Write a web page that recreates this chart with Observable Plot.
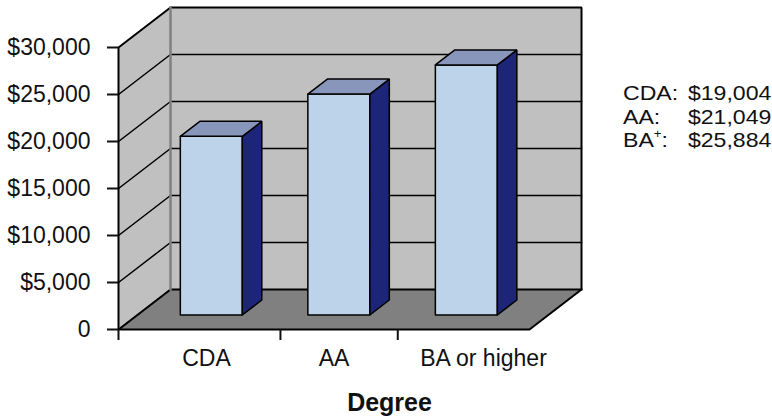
<!DOCTYPE html>
<html>
<head>
<meta charset="utf-8">
<script src="https://cdn.jsdelivr.net/npm/d3@7"></script>
<script src="https://cdn.jsdelivr.net/npm/@observablehq/plot@0.6"></script>
<style>
  html, body { margin: 0; padding: 0; background: #fff; }
  #wrap { position: relative; width: 772px; height: 419px; }
  #legend {
    position: absolute; left: 623px; top: 81px;
    font-family: "Liberation Sans", Arial, sans-serif; font-size: 21px; line-height: 23.5px;
    transform: scaleX(1.1); transform-origin: 0 0;
    color: #111; display: grid; grid-template-columns: 59px auto;
  }
  #legend sup { font-size: 12px; line-height: 0; vertical-align: baseline; position: relative; top: -9px; }
</style>
</head>
<body>
<div id="wrap"><div id="legend"></div></div>
<script>
// ---- data ----
const categories = ["CDA", "AA", "BA or higher"];
const barValues = [19004, 23500, 26600];          // bar heights as drawn
const legendNames = ["CDA", "AA", "BA"];
const legendSup = ["", "", "+"];
const legendValues = [19004, 21049, 25884];
const yTicks = [0, 5000, 10000, 15000, 20000, 25000, 30000];
const gridValues = [5000, 10000, 15000, 20000, 25000];

// ---- 3D layout (in scale units) ----
const X0 = -0.58, X1 = 2.643;          // floor extent along x (category index units)
const YMAX = 30000;
const DEPTH_X = 52 / 127.5;             // full depth shift in x units
const DEPTH_Y = 40 * 30000 / 282;       // full depth shift in y units
const BAR_W = 0.486, D1 = 0.3625, D2 = 0.7375;
const xTickMarks = [X0, 0.69, 1.61];

const P = (x, v, d) => ({x: x + d * DEPTH_X, y: v + d * DEPTH_Y});
const poly = (id, pts, closed = true) => (closed ? [...pts, pts[0]] : pts).map(p => ({...p, id}));

const backWall = poly("back", [P(X0, 0, 1), P(X1, 0, 1), P(X1, YMAX, 1), P(X0, YMAX, 1)]);
const leftWall = poly("left", [P(X0, 0, 0), P(X0, 0, 1), P(X0, YMAX, 1), P(X0, YMAX, 0)]);
const floor = poly("floor", [P(X0, 0, 0), P(X1, 0, 0), P(X1, 0, 1), P(X0, 0, 1)]);

const grid = gridValues.flatMap(v => poly("g" + v, [P(X0, v, 0), P(X0, v, 1), P(X1, v, 1)], false));
const outline = [
  ...poly("o1", [P(X0, 0, 0), P(X0, YMAX, 0), P(X0, YMAX, 1), P(X1, YMAX, 1), P(X1, 0, 1), P(X1, 0, 0), P(X0, 0, 0)], false),
  ...poly("o2", [P(X0, 0, 0), P(X0, 0, 1), P(X1, 0, 1)], false)
];
const cornerEdge = poly("c", [P(X0, 0, 1), P(X0, YMAX, 1)], false);

const fronts = [], sides = [], tops = [];
barValues.forEach((v, i) => {
  const xl = i - BAR_W / 2, xr = i + BAR_W / 2;
  fronts.push(...poly("f" + i, [P(xl, 0, D1), P(xr, 0, D1), P(xr, v, D1), P(xl, v, D1)]));
  sides.push(...poly("s" + i, [P(xr, 0, D1), P(xr, 0, D2), P(xr, v, D2), P(xr, v, D1)]));
  tops.push(...poly("t" + i, [P(xl, v, D1), P(xr, v, D1), P(xr, v, D2), P(xl, v, D2)]));
});

const face = (data, fill, extra = {}) => Plot.line(data, {x: "x", y: "y", z: "id", fill, stroke: "none", curve: "linear", ...extra});
const edge = (data, stroke, strokeWidth) => Plot.line(data, {x: "x", y: "y", z: "id", stroke, strokeWidth, strokeLinejoin: "miter", strokeLinecap: "square", curve: "linear"});
const barFace = (data, fill) => Plot.line(data, {x: "x", y: "y", z: "id", fill, stroke: "#000", strokeWidth: 1.5, strokeLinejoin: "miter", curve: "linear"});

const fmt = d3.format("$,");

const chart = Plot.plot({
  width: 772, height: 419,
  marginLeft: 118, marginRight: 243, marginTop: 47, marginBottom: 90,
  style: {fontFamily: "Liberation Sans, Arial, sans-serif", fontSize: "23px", color: "#111", background: "#fff"},
  x: {domain: [X0, X1]},
  y: {domain: [0, YMAX]},
  marks: [
    face(backWall, "#c0c0c0"),
    face(leftWall, "#c0c0c0"),
    face(floor, "#808080"),
    edge(grid, "#000", 1.5),
    edge(outline, "#000", 2),
    edge(cornerEdge, "#808080", 2.5),
    barFace(fronts, "#bdd3e9"),
    barFace(sides, "#1c2577"),
    barFace(tops, "#8896bb"),
    Plot.axisY({ticks: yTicks, tickFormat: d => d === 0 ? "0" : fmt(d), tickSize: 11, tickPadding: 17, strokeWidth: 2, label: null, fontSize: 23}),
    Plot.axisX({ticks: xTickMarks, tickFormat: () => "", tickSize: 11, strokeWidth: 2, label: null}),
    Plot.text(categories.slice(0, 2), {x: (d, i) => i, y: () => 0, text: d => d, dx: 14, dy: 36, lineAnchor: "bottom", fontSize: 23}),
    Plot.text(categories.slice(2), {x: () => 2, y: () => 0, text: d => d, dx: 36, dy: 36, lineAnchor: "bottom", fontSize: 23}),
    Plot.text(["Degree"], {frameAnchor: "bottom", text: d => d, dx: 65.5, dy: 81, lineAnchor: "bottom", fontSize: 25, fontWeight: "bold"})
  ]
});
document.getElementById("wrap").prepend(chart);

const legend = document.getElementById("legend");
legendNames.forEach((n, i) => {
  const a = document.createElement("div");
  a.innerHTML = n + (legendSup[i] ? "<sup>" + legendSup[i] + "</sup>" : "") + ":";
  const b = document.createElement("div");
  b.textContent = fmt(legendValues[i]);
  legend.append(a, b);
});
</script>
</body>
</html>
